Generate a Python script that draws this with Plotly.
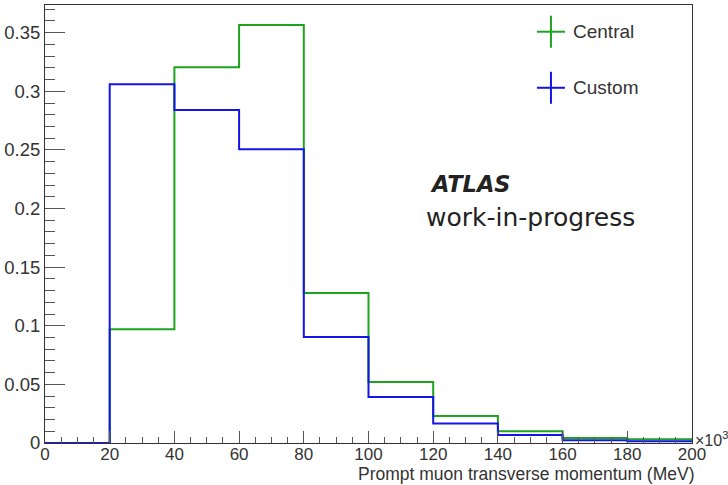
import plotly.graph_objects as go

# Bin edges in units of 10^3 MeV
bin_edges = [0, 20, 40, 60, 80, 100, 120, 140, 160, 180, 200]

# Normalised bin contents
central = [0.0, 0.097, 0.3205, 0.3565, 0.128, 0.052, 0.023, 0.010, 0.0043, 0.0032]
custom = [0.0, 0.306, 0.284, 0.2505, 0.0905, 0.0393, 0.0166, 0.0068, 0.0023, 0.0015]

y_ticks = [0, 0.05, 0.1, 0.15, 0.2, 0.25, 0.3, 0.35]
y_tick_text = ["0", "0.05", "0.1", "0.15", "0.2", "0.25", "0.3", "0.35"]
x_ticks = [0, 20, 40, 60, 80, 100, 120, 140, 160, 180, 200]

GREEN = "#1ea31e"
BLUE = "#1414e6"
INK = "#333333"
SANS = "Liberation Sans, Arial, sans-serif"


def step_trace(values, color, name):
    # histogram outline: each bin value held across its bin width
    xs = list(bin_edges)
    ys = list(values) + [values[-1]]
    return go.Scatter(x=xs, y=ys, mode="lines", name=name,
                      line=dict(shape="hv", color=color, width=2),
                      showlegend=False, hoverinfo="skip")


fig = go.Figure()
fig.add_trace(step_trace(central, GREEN, "Central"))
fig.add_trace(step_trace(custom, BLUE, "Custom"))

fig.update_layout(
    width=728, height=485,
    margin=dict(l=45, r=36, t=5, b=42),
    paper_bgcolor="white", plot_bgcolor="white",
    font=dict(family=SANS, color=INK, size=17),
)

fig.update_xaxes(
    range=[0, 200], tickvals=x_ticks, ticktext=[str(v) for v in x_ticks],
    showline=True, linecolor=INK, linewidth=1, mirror=True,
    ticks="inside", ticklen=12, tickcolor="#555555", tickwidth=1,
    minor=dict(dtick=5, ticks="inside", ticklen=6, tickcolor="#555555"),
    showgrid=False, zeroline=False, ticklabelstandoff=-4,
    tickfont=dict(size=17, color=INK),
)
fig.update_yaxes(
    range=[0, 0.3736], tickvals=y_ticks, ticktext=y_tick_text,
    showline=True, linecolor=INK, linewidth=1, mirror=True,
    ticks="inside", ticklen=20, tickcolor="#555555", tickwidth=1,
    minor=dict(dtick=0.01, ticks="inside", ticklen=10, tickcolor="#555555"),
    showgrid=False, zeroline=False,
    tickfont=dict(size=18.5, color=INK),
)

# Axis title and exponent, right-aligned to the end of the x axis
fig.add_annotation(text="Prompt muon transverse momentum (MeV)", xref="paper", yref="paper",
                   x=1.0, xshift=5, y=0, yshift=-19, xanchor="right", yanchor="top", showarrow=False,
                   font=dict(size=17.5, color=INK, family=SANS))
fig.add_annotation(text="×10<sup>3</sup>", xref="paper", yref="paper",
                   x=1.0, y=0, xshift=1, yshift=4, yanchor="middle", xanchor="left", showarrow=False,
                   font=dict(size=16, color=INK, family=SANS))

# Legend: crosses and labels
legend_items = [("Central", GREEN, 0.939), ("Custom", BLUE, 0.811)]
for label, color, ypos in legend_items:
    fig.add_shape(type="line", xref="paper", yref="paper", xsizemode="pixel",
                  xanchor=0.782, x0=-14, x1=14, y0=ypos, y1=ypos,
                  line=dict(color=color, width=2))
    fig.add_shape(type="line", xref="paper", yref="paper", ysizemode="pixel",
                  yanchor=ypos, y0=-16, y1=16, x0=0.782, x1=0.782,
                  line=dict(color=color, width=2))
    fig.add_annotation(text=label, xref="paper", yref="paper", x=0.782, xshift=20,
                       y=ypos, xanchor="left", yanchor="middle", showarrow=False,
                       font=dict(size=19, color=INK, family=SANS))

# Experiment label
fig.add_annotation(text="<b><i>ATLAS</i></b>", xref="paper", yref="paper",
                   x=0.592, y=0.591, xanchor="left", yanchor="middle", showarrow=False,
                   font=dict(size=22.5, color="#222222", family="DejaVu Sans"))
fig.add_annotation(text="work-in-progress", xref="paper", yref="paper",
                   x=0.586, y=0.514, xanchor="left", yanchor="middle", showarrow=False,
                   font=dict(size=25, color="#222222", family="DejaVu Sans"))

fig.write_html("out.html")
